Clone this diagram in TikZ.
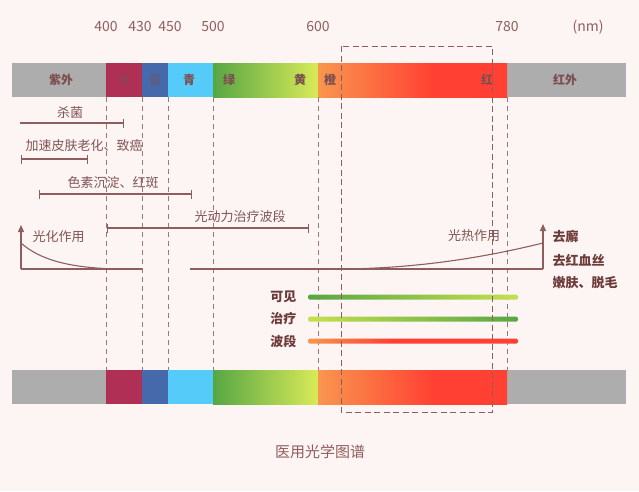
\documentclass[tikz,border=0pt]{standalone}
\usepackage{fontspec}
\setmainfont{Noto Sans CJK SC}
\usetikzlibrary{arrows.meta,calc,positioning}
\definecolor{pagebg}{HTML}{FDF5F3}
\definecolor{inkbrown}{HTML}{8E5E5E}
\definecolor{labelbrown}{HTML}{6E3B3B}
\definecolor{bandgray}{HTML}{ADADAD}
\definecolor{bandviolet}{HTML}{B02F55}
\definecolor{bandblue}{HTML}{4569AB}
\definecolor{bandcyan}{HTML}{55CBFA}
\definecolor{bandgreen}{HTML}{57A644}
\definecolor{bandyellow}{HTML}{D9EA58}
\definecolor{bandorange}{HTML}{F8964E}
\definecolor{bandred}{HTML}{FF4033}
\definecolor{barlime}{HTML}{C5E04E}
\pgfdeclarehorizontalshading{orangered}{100bp}{color(0bp)=(bandorange); color(25bp)=(bandorange); color(56bp)=(bandred); color(100bp)=(bandred)}
\pgfdeclarehorizontalshading{barorangered}{100bp}{color(0bp)=(bandorange); color(25bp)=(bandorange); color(45bp)=(bandred); color(100bp)=(bandred)}
\tikzset{
  bandtext/.style={font=\fontsize{12}{14}\selectfont\bfseries,text=labelbrown!90},
  numtext/.style={font=\fontsize{14}{16}\selectfont,text=inkbrown},
  notetext/.style={font=\fontsize{13}{15}\selectfont,text=inkbrown!90!black},
  bartext/.style={font=\fontsize{13}{15}\selectfont\bfseries,text=labelbrown,anchor=east},
  effecttext/.style={font=\fontsize{13}{15}\selectfont\bfseries,text=labelbrown,anchor=west},
  guide/.style={inkbrown!85,line width=0.7pt,dash pattern=on 5pt off 4pt},
  windowbox/.style={inkbrown,line width=1pt,dash pattern=on 6pt off 3.5pt},
  span/.style={inkbrown,line width=1.2pt},
  spanboth/.style={span,{Bar[width=9pt]}-{Bar[width=9pt]}},
  spanright/.style={span,-{Bar[width=9pt]}},
  effectaxis/.style={inkbrown,line width=1.2pt,-{Triangle[width=6pt,length=7pt]}},
  effectcurve/.style={inkbrown,line width=1.1pt}
}

\begin{document}
\begin{tikzpicture}[x=1pt,y=-1pt]
  \fill[pagebg] (0,0) rectangle (639,491);
  \useasboundingbox (0,0) rectangle (639,491);
  % spectrum bars, top and bottom
  \foreach \yb in {63,370}{
    \foreach \xa/\xb/\col in {12/106/bandgray,106/142/bandviolet,142/168/bandblue,168/213/bandcyan,507/626/bandgray}
      \fill[\col] (\xa,\yb) rectangle (\xb,\yb+34);
    \shade[left color=bandgreen,right color=bandyellow] (213,\yb) rectangle (318,\yb+34);
    \shade[shading=orangered] (318,\yb) rectangle (507,\yb+34);
  }
  % band names
  \node[bandtext] (uv) at (61,80) {紫外};
  \node[bandtext,opacity=0.45] (violet) at (124,80) {紫};
  \node[bandtext,opacity=0.45] (blue) at (155,80) {蓝};
  \node[bandtext] (cyan) at (189,80) {青};
  \node[bandtext] (green) at (229,80) {绿};
  \node[bandtext] (yellow) at (300,80) {黄};
  \node[bandtext] (orange) at (330,80) {橙};
  \node[bandtext] (red) at (487,80) {红};
  \node[bandtext] (ir) at (565,80) {红外};
  % wavelengths
  \foreach \x/\n in {106/400,140/430,170/450,213/500,318/600,507/780}
    \node[numtext] (nm\n) at (\x,27) {\n};
  \node[numtext] (unit) at (588,27) {(nm)};
  \foreach \x in {106,142,168,213,318,507}
    \draw[guide] (\x,97) -- (\x,370);
  % ranges
  \node[notetext] (kill) at (70,113) {杀菌};
  \draw[spanright] (20,123) -- (124,123);
  \node[notetext] (aging) at (84,146) {加速皮肤老化、致癌};
  \draw[spanboth] (21,159) -- (88,159);
  \node[notetext] (pigment) at (113,183) {色素沉淀、红斑};
  \draw[spanboth] (39,194) -- (192,194);
  \node[notetext] (pdt) at (240,217) {光动力治疗波段};
  \draw[spanboth] (107,228) -- (309,228);
  % photochemical and photothermal effect
  \coordinate (chemorigin) at (21,269);
  \coordinate (chemtop) at (21,225);
  \coordinate (heatorigin) at (543,269);
  \coordinate (heattop) at (543,224);
  \draw[effectaxis] (chemorigin) -- (chemtop);
  \draw[effectcurve] (chemorigin) -- (142,269);
  \draw[effectcurve] (21,243) .. controls (40,260) and (70,268) .. (118,269);
  \node[notetext,anchor=west] (chem) at (29,237) {光化作用};
  \draw[effectcurve] (190,269) -- (heatorigin);
  \draw[effectaxis] (heatorigin) -- (heattop);
  \draw[effectcurve] (335,269) .. controls (420,269) and (490,256) .. (543,243);
  \node[notetext] (heat) at (474,236) {光热作用};
  \node[effecttext] (fx1) at (549,237) {去廨};
  \node[effecttext] (fx2) at (549,260) {去红血丝};
  \node[effecttext] (fx3) at (549,283) {嫩肤、脱毛};
  % therapy window bars
  \node[bartext] (visible) at (300,297) {可见};
  \node[bartext] (therapy) at (300,319) {治疗};
  \node[bartext] (band) at (300,341) {波段};
  \shade[left color=bandgreen,right color=barlime,rounded corners=1.5pt] (308,294.5) rectangle (518,299.5);
  \shade[left color=barlime,right color=bandgreen,rounded corners=1.5pt] (308,316.5) rectangle (518,321.5);
  \shade[shading=barorangered,rounded corners=1.5pt] (308,338.5) rectangle (518,343.5);
  % therapeutic window
  \draw[windowbox] (341,46) rectangle (492,412);
  \node[font=\fontsize{15}{17}\selectfont,text=inkbrown] (title) at (320,452) {医用光学图谱};
\end{tikzpicture}
\end{document}
